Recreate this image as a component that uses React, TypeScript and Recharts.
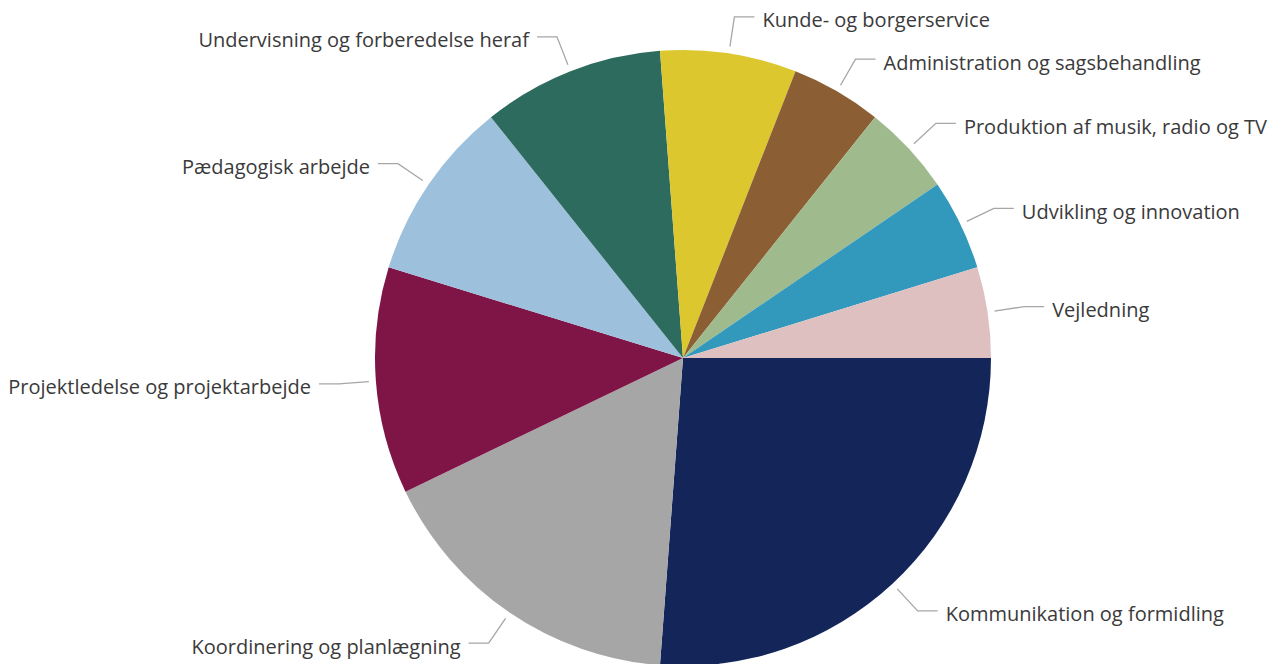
import React from "react";
import { PieChart, Pie, Cell } from "recharts";

const categories = [
  "Kommunikation og formidling",
  "Koordinering og planlægning",
  "Projektledelse og projektarbejde",
  "Pædagogisk arbejde",
  "Undervisning og forberedelse heraf",
  "Kunde- og borgerservice",
  "Administration og sagsbehandling",
  "Produktion af musik, radio og TV",
  "Udvikling og innovation",
  "Vejledning",
];

const values = [11, 7, 5, 4, 4, 3, 2, 2, 2, 2];

const colors = [
  "#132559",
  "#a6a6a6",
  "#7f1447",
  "#9dc1dc",
  "#2c6b5e",
  "#dcc72f",
  "#8b5e34",
  "#9fba8d",
  "#3399bc",
  "#dfc0c1",
];

const data = categories.map((name, i) => ({ name, value: values[i] }));

const RADIAN = Math.PI / 180;

const renderLabel = (props: any) => {
  const { cx, cy, midAngle, outerRadius, index } = props;
  const cos = Math.cos(-midAngle * RADIAN);
  const sin = Math.sin(-midAngle * RADIAN);
  const sx = cx + (outerRadius + 7) * cos;
  const sy = cy + (outerRadius + 7) * sin;
  const mx = cx + (outerRadius + 37) * cos;
  const my = cy + (outerRadius + 37) * sin;
  const dir = cos >= 0 ? 1 : -1;
  const ex = mx + dir * 20;
  const tx = ex + dir * 8;
  return (
    <g>
      <polyline
        points={`${sx},${sy} ${mx},${my} ${ex},${my}`}
        stroke="#a6a6a6"
        strokeWidth={1.3}
        fill="none"
      />
      <text
        x={tx}
        y={my + 3}
        textAnchor={dir > 0 ? "start" : "end"}
        dominantBaseline="central"
        fill="#3a3a3a"
        fontSize={20}
        fontFamily="'Open Sans', sans-serif"
      >
        {categories[index]}
      </text>
    </g>
  );
};

export default function App() {
  return (
    <div style={{ position: "absolute", left: 0, top: 0, width: 1282, height: 664, background: "#fff" }}>
      <PieChart width={1282} height={664} margin={{ top: 0, right: 0, bottom: 0, left: 0 }}>
        <Pie
          data={data}
          dataKey="value"
          nameKey="name"
          cx={683}
          cy={358}
          outerRadius={308}
          startAngle={0}
          endAngle={-360}
          stroke="none"
          label={renderLabel}
          labelLine={false}
          isAnimationActive={false}
        >
          {data.map((d, i) => (
            <Cell key={d.name} fill={colors[i]} />
          ))}
        </Pie>
      </PieChart>
    </div>
  );
}
